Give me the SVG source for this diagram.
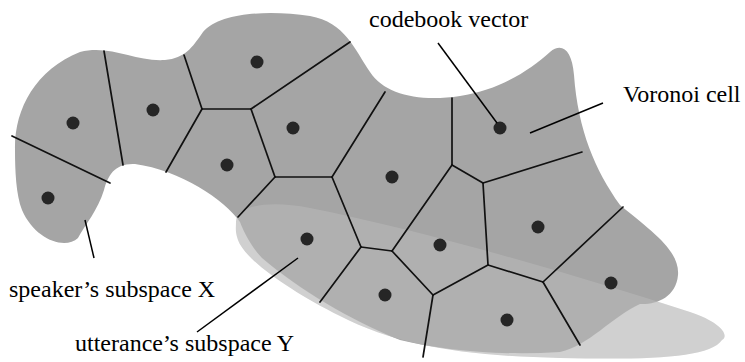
<svg xmlns="http://www.w3.org/2000/svg" width="745" height="362" viewBox="0 0 745 362">
<style>
.lbl{font-family:"Liberation Serif","Times New Roman",serif;font-size:24px;fill:#000}
.edge{stroke:#111;stroke-width:1.7;fill:none;stroke-linecap:round}
.lead{stroke:#000;stroke-width:1.5;fill:none}
.dot{fill:#262626}
</style>
<rect width="745" height="362" fill="#fff"/>
<defs>
<path id="Yshape" d="M236,222 C236,205 270,200 310,208 C420,230 560,270 690,312 C720,322 730,335 722,340 C710,358 650,360 560,358 C470,356 400,347 340,316 C290,291 245,260 238,240 C235,232 236,228 236,222 Z"/>
</defs>
<g id="subspace-Y-under">
<use href="#Yshape" fill="#c9c9c9"/>
</g>
<g id="subspace-X">
<path d="M15,150 C14,110 35,70 80,52 C110,44 135,62 165,60 C185,58 192,48 203,32 C220,12 270,10 310,16 C345,22 355,50 370,72 C385,95 420,102 460,96 C500,90 530,70 550,52 C562,42 572,50 574,75 C578,130 595,170 620,205 C650,230 680,250 678,275 C676,298 655,305 640,304 C610,318 590,345 560,352 C500,356 440,350 400,340 C350,320 300,290 262,258 C250,245 244,232 240,222 C225,200 180,170 135,164 C115,163 108,175 104,190 C98,210 85,225 78,238 C65,250 35,240 22,210 C16,195 15,170 15,150 Z" fill="#a5a5a5"/>
</g>
<g id="subspace-Y-overlay">
<use href="#Yshape" fill="#fff" fill-opacity="0.13"/>
</g>
<g id="voronoi-edges">
<line class="edge" x1="12" y1="136" x2="110" y2="183"/>
<line class="edge" x1="104" y1="51" x2="123" y2="165"/>
<line class="edge" x1="184" y1="55" x2="202" y2="109"/>
<line class="edge" x1="202" y1="109" x2="251" y2="109"/>
<line class="edge" x1="202" y1="109" x2="166" y2="172"/>
<line class="edge" x1="251" y1="109" x2="350" y2="42"/>
<line class="edge" x1="251" y1="109" x2="275" y2="177"/>
<line class="edge" x1="275" y1="177" x2="332" y2="177"/>
<line class="edge" x1="275" y1="177" x2="238" y2="217"/>
<line class="edge" x1="332" y1="177" x2="385" y2="92"/>
<line class="edge" x1="332" y1="177" x2="361" y2="247"/>
<line class="edge" x1="361" y1="247" x2="392" y2="251"/>
<line class="edge" x1="361" y1="247" x2="320" y2="302"/>
<line class="edge" x1="392" y1="251" x2="452" y2="165"/>
<line class="edge" x1="452" y1="98" x2="452" y2="165"/>
<line class="edge" x1="452" y1="165" x2="483" y2="183"/>
<line class="edge" x1="483" y1="183" x2="582" y2="152"/>
<line class="edge" x1="483" y1="183" x2="488" y2="265"/>
<line class="edge" x1="488" y1="265" x2="543" y2="282"/>
<line class="edge" x1="488" y1="265" x2="433" y2="295"/>
<line class="edge" x1="433" y1="295" x2="392" y2="251"/>
<line class="edge" x1="433" y1="295" x2="423" y2="357"/>
<line class="edge" x1="543" y1="282" x2="623" y2="207"/>
<line class="edge" x1="543" y1="282" x2="580" y2="345"/>
</g>
<g id="codebook-vectors">
<circle class="dot" cx="73" cy="123" r="6.5"/>
<circle class="dot" cx="153" cy="110" r="6.5"/>
<circle class="dot" cx="257" cy="62" r="6.5"/>
<circle class="dot" cx="293" cy="128" r="6.5"/>
<circle class="dot" cx="227" cy="165" r="6.5"/>
<circle class="dot" cx="48" cy="198" r="6.5"/>
<circle class="dot" cx="392" cy="177" r="6.5"/>
<circle class="dot" cx="500" cy="128" r="6.5"/>
<circle class="dot" cx="307" cy="239" r="6.5"/>
<circle class="dot" cx="440" cy="245" r="6.5"/>
<circle class="dot" cx="538" cy="227" r="6.5"/>
<circle class="dot" cx="385" cy="295" r="6.5"/>
<circle class="dot" cx="507" cy="320" r="6.5"/>
<circle class="dot" cx="611" cy="283" r="6.5"/>
</g>
<g id="leaders">
<line class="lead" x1="438" y1="43" x2="497" y2="123"/>
<line class="lead" x1="530" y1="133" x2="603" y2="103"/>
<line class="lead" x1="85" y1="220" x2="94" y2="258"/>
<line class="lead" x1="298" y1="258" x2="197" y2="332"/>
</g>
<g id="labels">
<text class="lbl" x="369" y="27">codebook vector</text>
<text class="lbl" x="623" y="102">Voronoi cell</text>
<text class="lbl" x="9" y="297">speaker’s subspace X</text>
<text class="lbl" x="75" y="351">utterance’s subspace Y</text>
</g>
</svg>
